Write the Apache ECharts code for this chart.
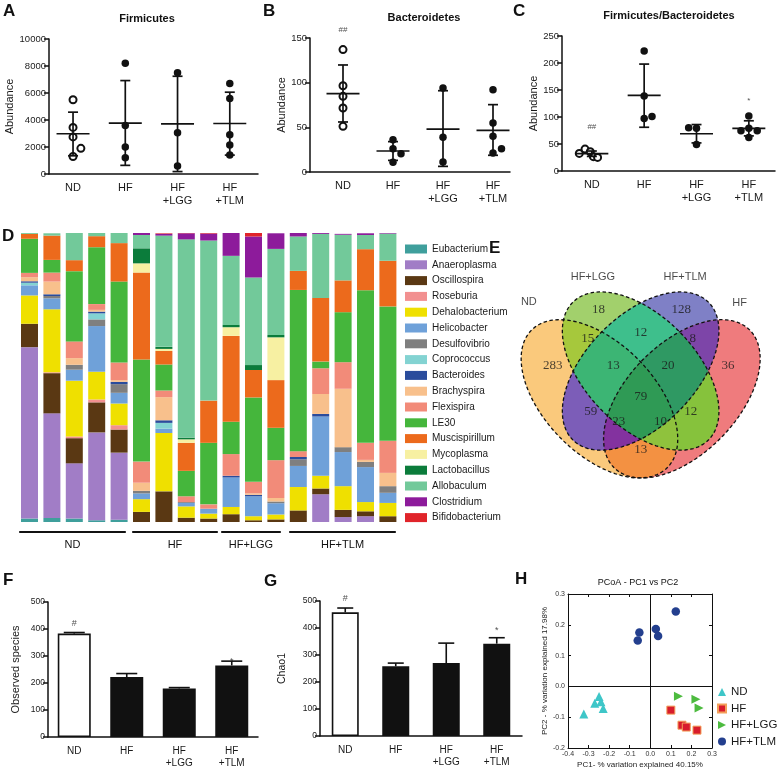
<!DOCTYPE html>
<html><head><meta charset="utf-8">
<script src="https://cdn.jsdelivr.net/npm/echarts@6/dist/echarts.min.js"></script>
<style>html,body{margin:0;padding:0;background:#fff}#c{width:778px;height:773px}</style>
</head><body><div id="c"></div>
<script>
const FONT = '"Liberation Sans", Arial, Helvetica, sans-serif';
const SERIF = '"Liberation Serif", "Times New Roman", serif';
const INK = '#1a1a1a';

// ---------- categories ----------
const groups = ['ND', 'HF', 'HF\n+LGG', 'HF\n+TLM'];
const pcoaGroups = ['ND', 'HF', 'HF+LGG', 'HF+TLM'];

// ---------- Panel A: Firmicutes abundance ----------
const firmND = [5500, 3450, 2750, 1900, 1300];
const firmHF = [8200, 3600, 2000, 1200];
const firmLGG = [7500, 3050, 600];
const firmTLM = [6700, 5600, 2900, 2150, 1400];
const firmMean = [2980, 3770, 3720, 3740];
const firmLow = [1350, 640, 180, 1400];
const firmHigh = [4580, 6920, 7240, 6060];

// ---------- Panel B: Bacteroidetes abundance ----------
const bactND = [137, 96.6, 84.7, 71.6, 51.1];
const bactHF = [36, 26, 20.5, 11];
const bactLGG = [94, 38.8, 11.2];
const bactTLM = [92, 54.8, 40, 21.3, 26];
const bactMean = [87.7, 23.5, 48, 46.6];
const bactLow = [56, 13, 6.3, 18.7];
const bactHigh = [119.8, 34, 91, 75.4];

// ---------- Panel C: Firmicutes/Bacteroidetes ----------
const ratioND = [32.6, 40.6, 35.7, 26.5, 25.2];
const ratioHF = [222, 139, 97, 101];
const ratioLGG = [80, 79, 49];
const ratioTLM = [102, 79, 74.5, 74.5, 62];
const ratioMean = [32, 140, 69, 79];
const ratioLow = [27, 81, 52, 65];
const ratioHigh = [37, 198, 86, 93];

// ---------- Panel D: relative abundance (%) per sample ----------
const sampleIds = ['ND-1','ND-2','ND-3','ND-4','ND-5','HF-1','HF-2','HF-3','HF-4','LGG-1','LGG-2','LGG-3','TLM-1','TLM-2','TLM-3','TLM-4','TLM-5'];
const eubacterium     = [1.2, 1.4, 1.2, 0.6, 0.8, 0, 0, 0, 0, 0, 0, 0, 0, 0, 0, 0, 0];
const anaeroplasma    = [59.3, 36.2, 19.1, 30.4, 23.2, 0, 0, 0, 0, 0, 0, 0, 0, 9.6, 1.7, 2.0, 0];
const oscillospira    = [8.1, 13.9, 8.7, 10.4, 8.0, 3.5, 10.6, 1.5, 1.2, 2.7, 0.6, 0.9, 4.0, 2.0, 2.5, 1.7, 2.0];
const roseburia       = [0, 0.3, 0.6, 1.0, 1.5, 0, 0, 0, 0, 0, 0, 0, 0, 0, 0, 0, 0];
const dehalobacterium = [9.8, 21.8, 19.3, 9.6, 7.5, 4.4, 20.2, 3.9, 1.7, 2.5, 1.4, 1.7, 8.1, 4.4, 8.2, 3.2, 4.6];
const helicobacter    = [3.5, 3.8, 3.8, 15.8, 3.7, 2.0, 1.5, 1.2, 1.7, 10.2, 6.9, 3.9, 7.3, 20.5, 11.8, 12.1, 3.5];
const desulfovibrio   = [0, 0.8, 1.7, 2.3, 3.0, 0.9, 0, 0.3, 0, 0, 0, 0.6, 2.3, 0, 1.7, 1.8, 2.3];
const coprococcus     = [0.9, 0, 0, 2.1, 0, 0, 2.0, 0, 0, 0, 0, 0, 0, 0, 0, 0, 0];
const bacteroides     = [0.5, 0.6, 0, 0.6, 0.8, 0, 0.9, 0, 0, 0.6, 0.5, 0, 0.8, 0.9, 0, 0, 0];
const brachyspira     = [1.4, 4.4, 2.3, 0.6, 0.6, 2.8, 8.0, 0, 0, 0, 0.5, 1.2, 0, 6.9, 20.2, 0.7, 4.6];
const flexispira      = [1.5, 3.1, 5.8, 2.0, 6.1, 7.3, 2.3, 2.0, 1.5, 7.5, 4.0, 13.1, 2.0, 8.9, 9.2, 5.9, 11.1];
const le30            = [11.8, 4.4, 24.3, 19.7, 28.0, 35.3, 9.0, 8.8, 21.3, 11.2, 29.2, 11.2, 55.8, 2.3, 17.3, 52.8, 46.5];
const muscispirillum  = [1.7, 8.4, 3.8, 3.8, 13.3, 30.1, 4.7, 9.7, 14.6, 29.7, 9.5, 16.5, 6.6, 22.0, 11.0, 14.2, 15.8];
const mycoplasma      = [0, 0, 0, 0, 0, 3.2, 0.7, 1.2, 0, 3.0, 0, 14.8, 0, 0, 0, 0, 0];
const lactobacillus   = [0, 0, 0, 0, 0, 5.2, 0.7, 0.6, 0, 0.8, 1.7, 0.8, 0, 0, 0, 0, 0];
const allobaculum     = [0.3, 0.8, 9.5, 1.2, 3.5, 4.6, 38.5, 68.6, 55.4, 23.9, 30.3, 29.8, 11.9, 22.2, 15.8, 4.9, 9.4];
const clostridium     = [0, 0, 0, 0, 0, 0.8, 0.6, 2.1, 2.4, 7.9, 14.2, 5.4, 1.2, 0.3, 0.3, 0.6, 0.2];
const bifidobacterium = [0, 0, 0, 0, 0, 0, 0.2, 0.2, 0.2, 0, 1.2, 0, 0, 0, 0, 0, 0];

const genera = [
  ['Eubacterium', eubacterium], ['Anaeroplasma', anaeroplasma], ['Oscillospira', oscillospira],
  ['Roseburia', roseburia], ['Dehalobacterium', dehalobacterium], ['Helicobacter', helicobacter],
  ['Desulfovibrio', desulfovibrio], ['Coprococcus', coprococcus], ['Bacteroides', bacteroides],
  ['Brachyspira', brachyspira], ['Flexispira', flexispira], ['LE30', le30],
  ['Muscispirillum', muscispirillum], ['Mycoplasma', mycoplasma], ['Lactobacillus', lactobacillus],
  ['Allobaculum', allobaculum], ['Clostridium', clostridium], ['Bifidobacterium', bifidobacterium]
];
const generaColors = ['#3f9f9c','#a17dc6','#5a3813','#f29090','#efe000','#6fa1d9','#7f7f7f','#83d3d2','#2a4c9c',
  '#f8c08c','#f28b79','#45b63c','#ec6a1c','#f7f0a2','#0b7c3b','#72c99a','#8d1b9b','#e0242a'];

// ---------- Panel E: Venn (OTU counts) ----------
const vennSetNames = ['ND', 'HF+LGG', 'HF+TLM', 'HF'];
const vennRegionSets = [[0],[1],[2],[3],[0,1],[0,2],[0,3],[1,2],[1,3],[2,3],[0,1,2],[0,1,3],[0,2,3],[1,2,3],[0,1,2,3]];
const vennCounts = [283, 18, 128, 36, 15, 59, 13, 12, 12, 8, 13, 10, 23, 20, 79];

// ---------- Panel F / G: alpha diversity ----------
const obsMean = [383, 222, 180, 265];
const obsUpper = [387, 235, 183, 281];
const chaoMean = [458, 258, 270, 342];
const chaoUpper = [474, 270, 344, 364];

// ---------- Panel H: PCoA coordinates ----------
const pcoaND = [[-0.323, -0.09], [-0.27, -0.055], [-0.249, -0.033], [-0.24, -0.05], [-0.229, -0.072]];
const pcoaHF = [[0.1, -0.077], [0.154, -0.126], [0.175, -0.132], [0.227, -0.142]];
const pcoaLGG = [[0.137, -0.032], [0.222, -0.042], [0.237, -0.07]];
const pcoaTLM = [[-0.061, 0.149], [-0.053, 0.175], [0.027, 0.186], [0.038, 0.164], [0.124, 0.243]];

// ================= layout / styling (not data) =================
const jitA = [[0,0,0,0.15,0],[0,0,0,0],[0,0,0],[0,0,0,0,0]];
const jitB = [[0,0,0,0,0],[0,0,0.16,0],[0,0,0],[0,0,0,0,0.17]];
const jitC = [[-0.24,-0.13,-0.03,0.03,0.11],[0,0,0,0.15],[-0.15,0,0],[0,0,-0.15,0.16,0]];
const vennGeom = {cx:[0.35,0.50,0.50,0.65], cy:[0.47,0.57,0.57,0.47], rot:[135,135,45,45], a:0.35, b:0.20};
const vennColors = ['#fac97c','#a2d06c','#7f80c6','#ef7b7d','#a6c83c','#7c5db8','#f39142','#3ebf8c','#86c23c','#7d45a8','#3cb574','#8fc23d','#83329f','#2f9963','#2f9a55'];
const vennLabelPos = [[0.18,0.588],[0.347,0.79],[0.648,0.79],[0.818,0.588],[0.307,0.686],[0.318,0.423],[0.5,0.286],[0.5,0.707],[0.682,0.423],[0.69,0.686],[0.40,0.59],[0.572,0.387],[0.42,0.387],[0.60,0.59],[0.5,0.477]];
const vennSetLabelPos = [[0.093,0.819],[0.326,0.909],[0.662,0.909],[0.86,0.815]];

function pts(vals, jit, idx) { return vals.map((v, k) => [idx + jit[k], v]); }

function meanSdItem(params, api) {
  const x = api.value(0);
  const pm = api.coord([x, api.value(1)]), pl = api.coord([x, api.value(2)]), ph = api.coord([x, api.value(3)]);
  const st = {stroke: '#111', lineWidth: 1.7};
  return {type: 'group', children: [
    {type: 'line', shape: {x1: pm[0]-16.5, y1: pm[1], x2: pm[0]+16.5, y2: pm[1]}, style: st},
    {type: 'line', shape: {x1: pl[0], y1: pl[1], x2: ph[0], y2: ph[1]}, style: st},
    {type: 'line', shape: {x1: pl[0]-5, y1: pl[1], x2: pl[0]+5, y2: pl[1]}, style: st},
    {type: 'line', shape: {x1: ph[0]-5, y1: ph[1], x2: ph[0]+5, y2: ph[1]}, style: st}
  ]};
}
function upperErr(half) {
  return function (params, api) {
    const x = api.value(0);
    const pm = api.coord([x, api.value(1)]), ph = api.coord([x, api.value(2)]);
    const st = {stroke: '#111', lineWidth: 1.6};
    return {type: 'group', children: [
      {type: 'line', shape: {x1: pm[0], y1: pm[1], x2: ph[0], y2: ph[1]}, style: st},
      {type: 'line', shape: {x1: ph[0]-half, y1: ph[1], x2: ph[0]+half, y2: ph[1]}, style: st}
    ]};
  };
}

function dotSeries(panel, vals, jit, axis) {
  const out = [];
  out.push({name: panel + '-open', type: 'scatter', xAxisIndex: axis, yAxisIndex: axis, symbol: 'circle', symbolSize: 7,
    itemStyle: {color: '#fff', borderColor: '#111', borderWidth: 2, opacity: 1}, data: pts(vals[0], jit[0], 0), z: 3});
  const filled = [].concat(pts(vals[1], jit[1], 1), pts(vals[2], jit[2], 2), pts(vals[3], jit[3], 3));
  out.push({name: panel + '-filled', type: 'scatter', xAxisIndex: axis, yAxisIndex: axis, symbol: 'circle', symbolSize: 7.5,
    itemStyle: {color: '#111', opacity: 1}, data: filled, z: 3});
  return out;
}
function meanSeries(panel, mean, low, high, axis) {
  return {name: panel + '-mean', type: 'custom', xAxisIndex: axis, yAxisIndex: axis, renderItem: meanSdItem,
    encode: {x: 0, y: [1, 2, 3]}, data: mean.map((m, i) => [i, m, low[i], high[i]]), z: 4};
}
function annotSeries(name, axis, items, size) {
  return {name, type: 'scatter', xAxisIndex: axis, yAxisIndex: axis, symbolSize: 0, clip: false, silent: true,
    data: items, label: {show: true, position: 'inside', formatter: p => p.value[2], fontSize: size, color: '#222', fontFamily: FONT}};
}

function groupXAxis(gridIndex, min, max) {
  return {type: 'value', gridIndex, min, max, splitLine: {show: false},
    axisLine: {show: true, onZero: false, lineStyle: {color: '#111', width: 1.5}}, axisTick: {show: false},
    axisLabel: {customValues: [0, 1, 2, 3], formatter: v => groups[Math.round(v)], fontSize: 11, lineHeight: 13,
      color: INK, fontFamily: FONT, margin: 7}};
}
function valYAxis(gridIndex, max, interval, name, nameGap, fs) {
  return {type: 'value', gridIndex, min: 0, max, interval, name, nameLocation: 'middle', nameGap, nameRotate: 90,
    nameTextStyle: {fontSize: 11, color: INK, fontFamily: FONT},
    axisLine: {show: true, onZero: false, lineStyle: {color: '#111', width: 1.5}},
    axisTick: {show: true, length: 5, lineStyle: {color: '#111', width: 1.5}},
    splitLine: {show: false}, axisLabel: {fontSize: fs, color: INK, fontFamily: FONT, margin: 3, formatter: v => String(v)}};
}
function catXAxis(gridIndex) {
  return {type: 'category', gridIndex, data: groups, axisTick: {show: false},
    axisLine: {show: true, onZero: false, lineStyle: {color: '#111', width: 1.5}},
    axisLabel: {fontSize: 10, lineHeight: 12, color: INK, fontFamily: FONT, margin: 8}};
}
const fmtH = v => (Math.abs(v) < 1e-9 ? '0.0' : v.toFixed(1));
const hAxisCommon = {axisLine: {show: true, onZero: false, lineStyle: {color: '#111', width: 1}},
  axisTick: {show: true, inside: true, length: 3, lineStyle: {color: '#111'}}, splitLine: {show: false}};

// ---------- Venn helpers ----------
function ellipsePts(api, k) {
  const out = [];
  const th = vennGeom.rot[k] * Math.PI / 180;
  const N = 140;
  for (let s = 0; s < N; s++) {
    const t = s / N * 2 * Math.PI;
    const lx = vennGeom.a * Math.cos(t), ly = vennGeom.b * Math.sin(t);
    const x = vennGeom.cx[k] + lx * Math.cos(th) - ly * Math.sin(th);
    const y = vennGeom.cy[k] + lx * Math.sin(th) + ly * Math.cos(th);
    out.push(api.coord([x, y]));
  }
  return out;
}
function vennFillItem(params, api) {
  const members = vennRegionSets[params.dataIndex];
  const shapes = members.map(k => ellipsePts(api, k));
  let el = {type: 'polygon', shape: {points: shapes[shapes.length - 1]}, style: {fill: vennColors[params.dataIndex]}};
  for (let j = shapes.length - 2; j >= 0; j--) {
    el = {type: 'group', children: [el], clipPath: {type: 'polygon', shape: {points: shapes[j]}}};
  }
  return el;
}
function vennLineItem(params, api) {
  return {type: 'polygon', shape: {points: ellipsePts(api, params.dataIndex)},
    style: {fill: null, stroke: '#111', lineWidth: 1.3, lineDash: [3.5, 2.5]}};
}

// ---------- series ----------
const series = [];
series.push(meanSeries('A', firmMean, firmLow, firmHigh, 0));
series.push(...dotSeries('A', [firmND, firmHF, firmLGG, firmTLM], jitA, 0));
series.push(meanSeries('B', bactMean, bactLow, bactHigh, 1));
series.push(...dotSeries('B', [bactND, bactHF, bactLGG, bactTLM], jitB, 1));
series.push(annotSeries('B-sig', 1, [[0, 159, '##']], 8));
series.push(meanSeries('C', ratioMean, ratioLow, ratioHigh, 2));
series.push(...dotSeries('C', [ratioND, ratioHF, ratioLGG, ratioTLM], jitC, 2));
series.push(annotSeries('C-sig', 2, [[0, 81.5, '##'], [3, 130, '*']], 8));

genera.forEach(([name, arr], i) => {
  series.push({name, type: 'bar', stack: 'D', xAxisIndex: 3, yAxisIndex: 3, barWidth: 17,
    itemStyle: {color: generaColors[i]}, data: arr});
});

series.push({name: 'F-bars', type: 'bar', xAxisIndex: 4, yAxisIndex: 4, barWidth: 33,
  data: obsMean.map((v, i) => ({value: v, itemStyle: i === 0 ? {color: '#fff', borderColor: '#111', borderWidth: 1.6} : {color: '#111'}}))});
series.push({name: 'F-err', type: 'custom', xAxisIndex: 4, yAxisIndex: 4, renderItem: upperErr(10.5),
  encode: {x: 0, y: [1, 2]}, data: obsMean.map((m, i) => [i, m, obsUpper[i]]), z: 4});
series.push(annotSeries('F-sig', 4, [[0, 422, '#'], [3, 280, '*']], 9));

series.push({name: 'G-bars', type: 'bar', xAxisIndex: 5, yAxisIndex: 5, barWidth: 27,
  data: chaoMean.map((v, i) => ({value: v, itemStyle: i === 0 ? {color: '#fff', borderColor: '#111', borderWidth: 1.6} : {color: '#111'}}))});
series.push({name: 'G-err', type: 'custom', xAxisIndex: 5, yAxisIndex: 5, renderItem: upperErr(8),
  encode: {x: 0, y: [1, 2]}, data: chaoMean.map((m, i) => [i, m, chaoUpper[i]]), z: 4});
series.push(annotSeries('G-sig', 5, [[0, 511, '#'], [3, 390, '*']], 9));

series.push({name: 'ND', type: 'scatter', xAxisIndex: 6, yAxisIndex: 6, symbol: 'triangle', symbolSize: 9,
  itemStyle: {color: '#3ec6c8', opacity: 1}, data: pcoaND, z: 3,
  markLine: {silent: true, symbol: 'none', label: {show: false}, lineStyle: {color: '#111', width: 1, type: 'solid'},
    data: [{xAxis: 0}, {yAxis: 0}]}});
series.push({name: 'HF', type: 'scatter', xAxisIndex: 6, yAxisIndex: 6, symbol: 'rect', symbolSize: 8,
  itemStyle: {color: '#d81c2c', borderColor: '#f3a05a', borderWidth: 1, opacity: 1}, data: pcoaHF, z: 3});
series.push({name: 'HF+LGG', type: 'scatter', xAxisIndex: 6, yAxisIndex: 6, symbol: 'triangle', symbolRotate: -90, symbolSize: 9,
  itemStyle: {color: '#4dbb3f', opacity: 1}, data: pcoaLGG, z: 3});
series.push({name: 'HF+TLM', type: 'scatter', xAxisIndex: 6, yAxisIndex: 6, symbol: 'circle', symbolSize: 8.5,
  itemStyle: {color: '#233f8e', opacity: 1}, data: pcoaTLM, z: 3});

series.push({name: 'venn-fill', type: 'custom', xAxisIndex: 7, yAxisIndex: 7, renderItem: vennFillItem,
  data: vennRegionSets.map((s, i) => [vennLabelPos[i][0], vennLabelPos[i][1]]), z: 1, silent: true});
series.push({name: 'venn-line', type: 'custom', xAxisIndex: 7, yAxisIndex: 7, renderItem: vennLineItem,
  data: vennSetNames.map((n, i) => [vennGeom.cx[i], vennGeom.cy[i]]), z: 2, silent: true});
series.push({name: 'venn-counts', type: 'scatter', xAxisIndex: 7, yAxisIndex: 7, symbolSize: 0, silent: true, z: 5,
  data: vennCounts.map((c, i) => [vennLabelPos[i][0], vennLabelPos[i][1], String(c)]),
  label: {show: true, position: 'inside', formatter: p => p.value[2], fontSize: 13, color: '#1a1a1a', fontFamily: SERIF}});
series.push({name: 'venn-sets', type: 'scatter', xAxisIndex: 7, yAxisIndex: 7, symbolSize: 0, silent: true, z: 5,
  data: vennSetNames.map((n, i) => [vennSetLabelPos[i][0], vennSetLabelPos[i][1], n]),
  label: {show: true, position: 'inside', formatter: p => p.value[2], fontSize: 11, color: '#1a1a1a', fontFamily: FONT}});

// ---------- graphics (panel letters, titles, group brackets) ----------
function txt(x, y, text, size, weight, align, family) {
  return {type: 'text', x, y, silent: true, style: {text, fontSize: size, fontWeight: weight || 'normal',
    fontFamily: family || FONT, fill: '#111', align: align || 'left', verticalAlign: 'middle'}};
}
const graphics = [
  txt(3, 11.5, 'A', 17, 'bold'), txt(263, 11.5, 'B', 17, 'bold'), txt(513, 11.5, 'C', 17, 'bold'),
  txt(2, 236, 'D', 17, 'bold'), txt(489, 248.5, 'E', 17, 'bold'), txt(3, 580.5, 'F', 17, 'bold'),
  txt(264, 581, 'G', 17, 'bold'), txt(515, 579.5, 'H', 17, 'bold'),
  txt(147, 18.5, 'Firmicutes', 11, 'bold', 'center'),
  txt(424, 17.5, 'Bacteroidetes', 11, 'bold', 'center'),
  txt(669, 15.5, 'Firmicutes/Bacteroidetes', 11, 'bold', 'center'),
  txt(638, 583, 'PCoA - PC1 vs PC2', 9, 'normal', 'center')
];
const brackets = [[20, 125, 'ND'], [133, 217, 'HF'], [222, 280, 'HF+LGG'], [290, 395, 'HF+TLM']];
brackets.forEach(([x1, x2, t]) => {
  graphics.push({type: 'line', silent: true, shape: {x1, y1: 532, x2, y2: 532}, style: {stroke: '#111', lineWidth: 2.2, lineCap: 'round'}});
  graphics.push(txt((x1 + x2) / 2, 544.5, t, 11, 'normal', 'center'));
});

const option = {
  animation: false,
  backgroundColor: '#fff',
  textStyle: {fontFamily: FONT},
  graphic: graphics,
  legend: [
    {data: genera.map(g => g[0]), orient: 'vertical', left: 405, top: 243, padding: 0, itemWidth: 22, itemHeight: 9, itemGap: 3.8,
      icon: 'rect', selectedMode: false, textStyle: {fontSize: 10, lineHeight: 12, color: INK, fontFamily: FONT}},
    {data: [{name: 'ND'}, {name: 'HF'}, {name: 'HF+LGG', icon: 'path://M0,0L10,5L0,10Z'}, {name: 'HF+TLM'}],
      orient: 'vertical', left: 717, top: 686, padding: 0, itemWidth: 8, itemHeight: 8, itemGap: 4.5,
      selectedMode: false, textStyle: {fontSize: 11.5, lineHeight: 12, color: INK, fontFamily: FONT}}
  ],
  grid: [
    {left: 49, top: 39, width: 209, height: 135},
    {left: 310, top: 38, width: 200, height: 134},
    {left: 562, top: 36, width: 213, height: 135},
    {left: 18.3, top: 233, width: 380.8, height: 289},
    {left: 48, top: 602, width: 210, height: 135},
    {left: 320, top: 601, width: 202, height: 135},
    {left: 568, top: 594, width: 144, height: 154},
    {left: 503.3, top: 251.7, width: 288, height: 277.6}
  ],
  xAxis: [
    groupXAxis(0, -0.46, 3.54),
    groupXAxis(1, -0.66, 3.34),
    groupXAxis(2, -0.57, 3.5),
    {type: 'category', gridIndex: 3, data: sampleIds, show: false},
    catXAxis(4),
    catXAxis(5),
    Object.assign({type: 'value', gridIndex: 6, min: -0.4, max: 0.3, interval: 0.1, position: 'bottom',
      name: 'PC1- % variation explained 40.15%', nameLocation: 'middle', nameGap: 13,
      nameTextStyle: {fontSize: 8, color: '#222', fontFamily: FONT},
      axisLabel: {fontSize: 7, color: '#333', margin: 3, formatter: fmtH, fontFamily: FONT}}, hAxisCommon),
    {type: 'value', gridIndex: 7, min: 0, max: 1, show: false},
    Object.assign({type: 'value', gridIndex: 6, min: -0.4, max: 0.3, interval: 0.1, position: 'top',
      axisLabel: {show: false}}, hAxisCommon)
  ],
  yAxis: [
    valYAxis(0, 10000, 2000, 'Abundance', 26, 9.5),
    valYAxis(1, 150, 50, 'Abundance', 22, 9.5),
    valYAxis(2, 250, 50, 'Abundance', 20, 9.5),
    {type: 'value', gridIndex: 3, min: 0, max: 100, show: false},
    valYAxis(4, 500, 100, 'Observed species', 27, 8.5),
    Object.assign(valYAxis(5, 500, 100, 'Chao1', 32, 8.5), {nameTextStyle: {fontSize: 10.5, color: INK, fontFamily: FONT}}),
    Object.assign({type: 'value', gridIndex: 6, min: -0.2, max: 0.3, interval: 0.1, position: 'left',
      name: 'PC2 - % variation explained 17.98%', nameLocation: 'middle', nameGap: 9, nameRotate: 90,
      nameTextStyle: {fontSize: 8, color: '#222', fontFamily: FONT},
      axisLabel: {fontSize: 7, color: '#333', margin: 3, formatter: fmtH, fontFamily: FONT}}, hAxisCommon),
    {type: 'value', gridIndex: 7, min: 0, max: 1, show: false},
    Object.assign({type: 'value', gridIndex: 6, min: -0.2, max: 0.3, interval: 0.1, position: 'right',
      axisLabel: {show: false}}, hAxisCommon)
  ],
  series
};
const chart = echarts.init(document.getElementById('c'), null, {renderer: 'canvas'});
chart.setOption(option);
</script>
</body></html>
